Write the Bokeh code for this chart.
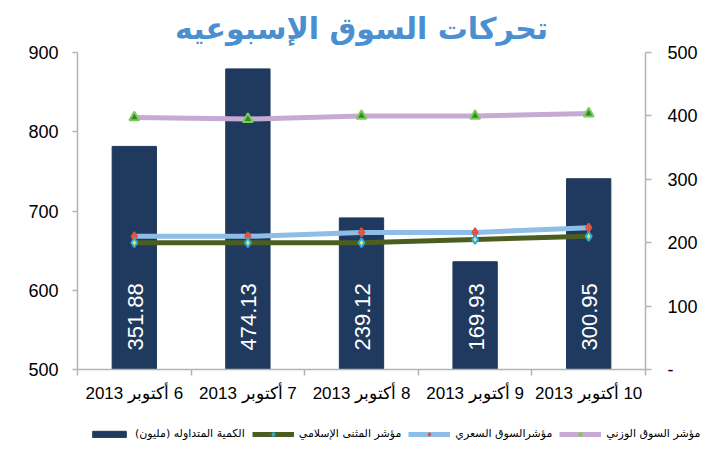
import numpy as np
from bokeh.plotting import figure
from bokeh.layouts import column
from bokeh.models import (Range1d, LinearAxis, FixedTicker, Legend, LegendItem, ColumnDataSource, Title)
from bokeh.core.properties import value
from bokeh.embed import file_html
from bokeh.resources import INLINE

# ---- data ----
dates = ["6 أكتوبر 2013", "7 أكتوبر 2013", "8 أكتوبر 2013", "9 أكتوبر 2013", "10 أكتوبر 2013"]
volume = [351.88, 474.13, 239.12, 169.93, 300.95]          # الكمية المتداوله (مليون) - right axis
weighted_index = [818, 816, 820, 820, 823]                  # مؤشر السوق الوزني
price_index = [668, 668, 673, 673, 679]                     # مؤشرالسوق السعري
islamic_index = [660, 660, 660, 664, 668]                   # مؤشر المثنى الإسلامي
left_ticks = [500, 600, 700, 800, 900]
right_ticks = [0, 100, 200, 300, 400, 500]
right_tick_labels = ["-", "100", "200", "300", "400", "500"]
title_text = "تحركات السوق الإسبوعيه"
legend_labels = ["الكمية المتداوله (مليون)", "مؤشر المثنى الإسلامي", "مؤشرالسوق السعري", "مؤشر السوق الوزني"]

RLM = "\u200f"
xs = np.arange(1, len(dates) + 1)
src = ColumnDataSource(dict(x=xs, vol=volume, vol_txt=[f"{v:.2f}" for v in volume],
                            w=weighted_index, pr=price_index, isl=islamic_index))

# styles
BAR_C = "#1F3A5E"
W_LINE, P_LINE, I_LINE = "#C6AAD3", "#8EBDE8", "#4B5E22"
w_mk = dict(marker="triangle", size=10, fill_color="#2E8B2E", line_color="#7DCB5A", line_width=2)
p_mk = dict(marker="diamond_cross", size=9, fill_color="#F08A5A", line_color="#E0503A", line_width=1.5)
i_mk = dict(marker="diamond", size=9, fill_color="#E8E86A", line_color="#2AA8E0", line_width=2)
LW = 5

p = figure(width=728, height=410, output_backend="svg", toolbar_location=None,
           x_range=Range1d(0.5, len(dates) + 0.5), y_range=Range1d(left_ticks[0], left_ticks[-1]),
           min_border_left=77, min_border_right=83, min_border_top=52, min_border_bottom=41)
p.frame_align = False
p.extra_y_ranges = {"vol": Range1d(right_ticks[0], right_ticks[-1])}
p.outline_line_color = None
p.xgrid.visible = False
p.ygrid.visible = False

p.title = Title(text=title_text, align="center", text_font_size="30px", text_font_style="bold",
                text_color="#4A8FD0", text_font="DejaVu Sans", standoff=13)

axis_col = "#b4b4b4"
# x axis
xa = p.xaxis[0]
xa.ticker = FixedTicker(ticks=list(xs), minor_ticks=list(np.append(xs - 0.5, xs[-1] + 0.5)))
xa.major_label_overrides = {int(x): RLM + d + RLM for x, d in zip(xs, dates)}
xa.major_tick_line_color = None
xa.major_tick_out = 0
xa.minor_tick_line_color = axis_col
xa.minor_tick_line_width = 1.5
xa.minor_tick_out = 6
xa.minor_tick_in = 0
xa.axis_line_color = axis_col
xa.axis_line_width = 1.5
xa.major_label_standoff = 8
xa.major_label_text_font = "Liberation Sans"
xa.major_label_text_font_size = "17px"
xa.major_label_text_color = "black"

# left axis
ya = p.yaxis[0]
ya.ticker = FixedTicker(ticks=left_ticks)
ya.minor_tick_line_color = None
ya.major_tick_out = 5
ya.major_tick_in = 0
ya.major_tick_line_color = axis_col
ya.major_tick_line_width = 1.5
ya.axis_line_color = axis_col
ya.axis_line_width = 1.5
ya.major_label_standoff = 14
ya.major_label_text_font = "Liberation Sans"
ya.major_label_text_font_size = "18px"
ya.major_label_text_color = "black"

# right axis
ra = LinearAxis(y_range_name="vol", ticker=FixedTicker(ticks=right_ticks),
                major_label_overrides={t: l for t, l in zip(right_ticks, right_tick_labels)})
ra.minor_tick_line_color = None
ra.major_tick_out = 6
ra.major_tick_in = 0
ra.major_tick_line_color = axis_col
ra.major_tick_line_width = 1.5
ra.axis_line_color = axis_col
ra.axis_line_width = 1.5
ra.major_label_standoff = 16
ra.major_label_text_font = "Liberation Sans"
ra.major_label_text_font_size = "18px"
ra.major_label_text_color = "black"
p.add_layout(ra, "right")

# bars
p.vbar(x="x", top="vol", bottom=0, width=0.39, source=src, y_range_name="vol",
       fill_color=BAR_C, line_color=BAR_C)
p.text(x="x", y=0, text="vol_txt", source=src, y_range_name="vol", angle=np.pi / 2,
       text_align="left", text_baseline="middle", y_offset=-19, x_offset=1,
       text_color="white", text_font=value("Liberation Sans"), text_font_size="22px")

# lines
p.line("x", "w", source=src, line_color=W_LINE, line_width=LW)
p.scatter("x", "w", source=src, **w_mk)
p.line("x", "pr", source=src, line_color=P_LINE, line_width=LW)
p.scatter("x", "pr", source=src, **p_mk)
p.line("x", "isl", source=src, line_color=I_LINE, line_width=LW)
p.scatter("x", "isl", source=src, **i_mk)

# ---- legend strip (separate figure below the chart); its ranges keep the proxy glyphs out of view ----
lg = figure(width=728, height=40, output_backend="svg", toolbar_location=None,
            x_range=Range1d(-20, -19), y_range=Range1d(-20, -19), x_axis_type=None, y_axis_type=None,
            min_border=0)
lg.frame_align = False
lg.outline_line_color = None
lg.xgrid.visible = False
lg.ygrid.visible = False
r_bar = lg.vbar(x="x", top="vol", bottom=0, width=0.1, source=src, fill_color=BAR_C, line_color=BAR_C)
r_il = lg.line("x", "isl", source=src, line_color=I_LINE, line_width=LW)
r_is = lg.scatter("x", "isl", source=src, **i_mk)
r_pl = lg.line("x", "pr", source=src, line_color=P_LINE, line_width=LW)
r_ps = lg.scatter("x", "pr", source=src, **p_mk)
r_wl = lg.line("x", "w", source=src, line_color=W_LINE, line_width=LW)
r_ws = lg.scatter("x", "w", source=src, **w_mk)

legend = Legend(items=[
    LegendItem(label=RLM + legend_labels[0] + RLM, renderers=[r_bar]),
    LegendItem(label=RLM + legend_labels[1] + RLM, renderers=[r_il, r_is]),
    LegendItem(label=RLM + legend_labels[2] + RLM, renderers=[r_pl, r_ps]),
    LegendItem(label=RLM + legend_labels[3] + RLM, renderers=[r_wl, r_ws]),
], orientation="horizontal", location=(88, 10), border_line_color=None,
    background_fill_alpha=0, padding=0, margin=0, spacing=7, glyph_width=42, glyph_height=8,
    label_standoff=5, label_text_font="DejaVu Sans", label_text_font_size="11px",
    label_text_color="black")
lg.add_layout(legend, "center")

open("out.html", "w").write(file_html(column(p, lg, spacing=0), INLINE))
